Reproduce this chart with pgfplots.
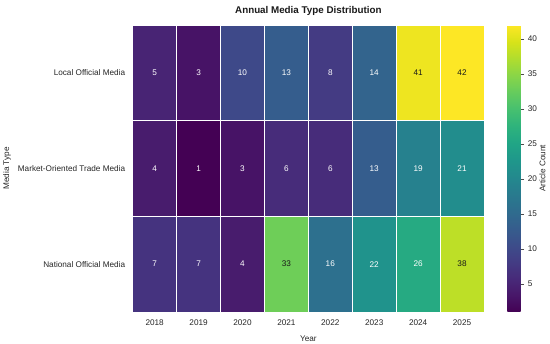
\documentclass[border=0pt]{standalone}
\usepackage{fontspec}
\setmainfont{Liberation Sans}
\usepackage{pgfplots}
\pgfplotsset{compat=1.18}
\pgfplotstableread{
x y c
0 0 5
1 0 3
2 0 10
3 0 13
4 0 8
5 0 14
6 0 41
7 0 42
0 1 4
1 1 1
2 1 3
3 1 6
4 1 6
5 1 13
6 1 19
7 1 21
0 2 7
1 2 7
2 2 4
3 2 33
4 2 16
5 2 22
6 2 26
7 2 38
}\heat
\pgfplotstableread{
x y c
0 0 5
1 0 3
2 0 10
3 0 13
4 0 8
5 0 14
0 1 4
1 1 1
2 1 3
3 1 6
4 1 6
5 1 13
6 1 19
7 1 21
0 2 7
1 2 7
2 2 4
4 2 16
5 2 22
6 2 26
}\whitelab
\pgfplotstableread{
x y c
6 0 41
7 0 42
3 2 33
7 2 38
}\blacklab
\begin{document}
\begin{tikzpicture}[x=1pt,y=1pt]
\useasboundingbox (-132.7,-32) rectangle (417.3,312);
\begin{axis}[
  at={(0,0)}, anchor=south west,
  scale only axis, width=351.3pt, height=287pt,
  xmin=-0.5, xmax=7.5, ymin=-0.5, ymax=2.5, y dir=reverse,
  xtick={0,...,7}, xticklabels={2018,2019,2020,2021,2022,2023,2024,2025},
  ytick={0,1,2},
  yticklabels={Local Official Media, Market-Oriented Trade Media, National Official Media},
  major tick length=0pt,
  axis line style={draw=none},
  colormap/viridis,
  point meta min=1, point meta max=42,
  /pgf/number format/assume math mode=true,
  tick label style={font=\fontsize{8.2}{10}\selectfont, text=black!85},
  xticklabel style={yshift=-4.5pt},
  yticklabel style={xshift=-4pt},
  title={\textbf{Annual Media Type Distribution}},
  title style={font=\fontsize{9.8}{12}\selectfont, text=black!90, at={(0.5,1)}, anchor=base, yshift=5.7pt},
  xlabel={Year}, ylabel={Media Type},
  label style={font=\fontsize{8.2}{10}\selectfont, text=black!85},
  xlabel style={at={(axis description cs:0.5,0)}, anchor=base, yshift=-29.5pt},
  ylabel style={at={(axis description cs:-0.3578,0.5)}, anchor=center},
  colorbar,
  colorbar style={
    width=13.4pt,
    at={(parent axis.north east)}, anchor=north west, xshift=14.8pt,
    ytick={5,10,...,40},
    ytick pos=right,
    yticklabel pos=right,
    ylabel={Article Count},
    ylabel style={font=\fontsize{8.2}{10}\selectfont, text=black!85, at={(axis description cs:2.62,0.5)}, anchor=center},
    yticklabel style={font=\fontsize{8.2}{10}\selectfont, text=black!85},
    axis line style={draw=none},
    major tick length=3.5pt,
    tick align=outside,
    ytick style={draw=black!70, line width=0.5pt},
    /pgf/number format/assume math mode=true,
  },
]
\addplot[matrix plot, mesh/cols=8, point meta=explicit, shader=faceted, faceted color=white, line width=0.6pt] table[x=x, y=y, meta=c] {\heat};
\addplot[draw=none, mark=none, nodes near coords, point meta=explicit symbolic,
  nodes near coords style={font=\fontsize{8.2}{10}\selectfont, text=white, anchor=center}]
  table[x=x, y=y, meta=c] {\whitelab};
\addplot[draw=none, mark=none, nodes near coords, point meta=explicit symbolic,
  nodes near coords style={font=\fontsize{8.2}{10}\selectfont, text=black!90, anchor=center}]
  table[x=x, y=y, meta=c] {\blacklab};
\end{axis}
\end{tikzpicture}
\end{document}
